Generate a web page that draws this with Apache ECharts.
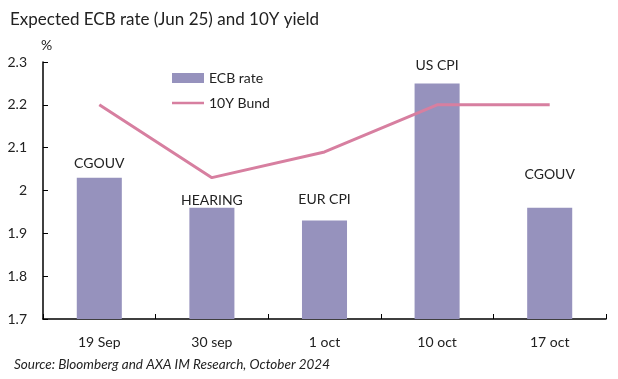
<!DOCTYPE html>
<html><head><meta charset="utf-8">
<script src="https://cdn.jsdelivr.net/npm/echarts@6/dist/echarts.min.js"></script>
<style>html,body{margin:0;padding:0;background:#fff}#c{width:618px;height:379px}</style>
</head><body><div id="c"></div>
<script>
const categories = ['19 Sep', '30 sep', '1 oct', '10 oct', '17 oct'];
const ecbRate = [2.03, 1.96, 1.93, 2.25, 1.96];
const bund10y = [2.20, 2.03, 2.09, 2.20, 2.20];
const eventLabels = ['CGOUV', 'HEARING', 'EUR CPI', 'US CPI', 'CGOUV'];
const yTicks = [1.7, 1.8, 1.9, 2.0, 2.1, 2.2, 2.3];

const labelOffsets = [[0, -2], [0, 5], [0, -9], [0, -6], [0, -21]];
const font = 'Lato, sans-serif';
const chart = echarts.init(document.getElementById('c'));
chart.setOption({
  animation: false,
  textStyle: {fontFamily: font},
  title: [
    {text: 'Expected ECB rate (Jun 25) and 10Y yield', left: 5, top: 6,
     textStyle: {fontSize: 17, fontWeight: 'normal', color: '#222', fontFamily: font}},
    {text: 'Source: Bloomberg and AXA IM Research, October 2024', left: 9, top: 353,
     textStyle: {fontSize: 13.5, fontStyle: 'italic', fontWeight: 'normal', color: '#222', fontFamily: font}}
  ],
  legend: {
    orient: 'vertical', left: 167, top: 66, itemWidth: 32, itemHeight: 10, itemGap: 11,
    textStyle: {fontSize: 14, color: '#222'},
    data: [{name: 'ECB rate', icon: 'rect'},
           {name: '10Y Bund', icon: 'path://M0,0L0.01,0M0,3.7L32,3.7L32,6.3L0,6.3ZM0,10L0.01,10'}]
  },
  grid: {left: 43, right: 12, top: 62, bottom: 60},
  xAxis: {
    type: 'category', data: categories, boundaryGap: true,
    axisLine: {lineStyle: {color: '#000', width: 1.5}},
    axisTick: {show: true, inside: true, length: 5, lineStyle: {color: '#000'}},
    axisLabel: {fontSize: 14, color: '#222', margin: 16}
  },
  yAxis: {
    type: 'value', min: 1.7, max: 2.3, interval: 0.1,
    name: '%', nameLocation: 'end', nameGap: 10, nameTextStyle: {fontSize: 14, color: '#222', align: 'left', padding: [0,0,0,-2]},
    axisLine: {show: true, lineStyle: {color: '#000', width: 1.5}},
    axisTick: {show: true, inside: true, length: 5, lineStyle: {color: '#000'}},
    splitLine: {show: false},
    axisLabel: {fontSize: 14, color: '#222', margin: 16,
      formatter: v => { const t = yTicks.find(x => Math.abs(x - v) < 1e-6); return t === undefined ? '' : String(+t.toFixed(1)); }}
  },
  series: [
    {
      name: 'ECB rate', type: 'bar', barWidth: '40%',
      itemStyle: {color: '#9692BD'},
      data: ecbRate.map((v, i) => ({value: v, label: {show: true, position: 'top', formatter: eventLabels[i], offset: labelOffsets[i], fontSize: 14, color: '#222'}}))
    },
    {
      name: '10Y Bund', type: 'line', data: bund10y, symbol: 'none',
      lineStyle: {color: '#D77FA0', width: 3}, itemStyle: {color: '#D77FA0'}
    }
  ]
});
</script></body></html>
